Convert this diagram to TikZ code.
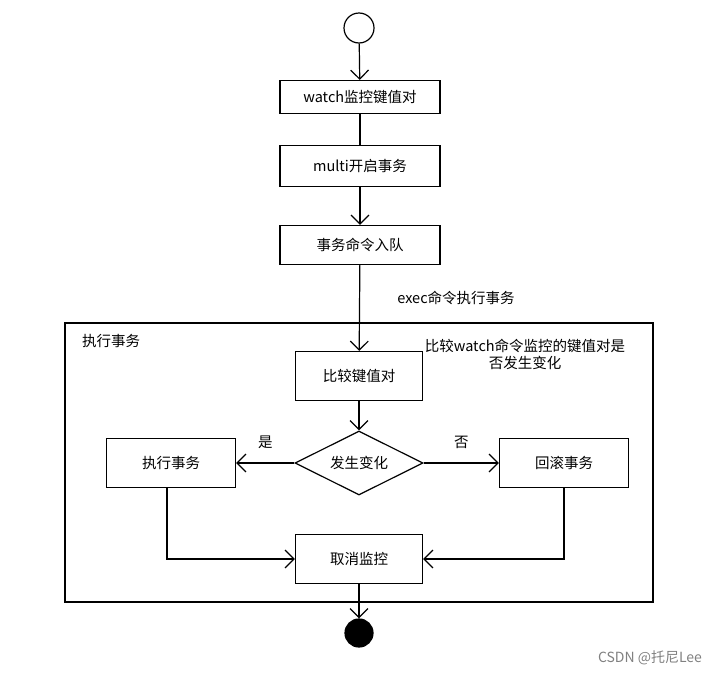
\documentclass[tikz,border=0pt]{standalone}
\usepackage{fontspec}
\setmainfont{Noto Sans CJK SC}
\usetikzlibrary{positioning, shapes.geometric, arrows.meta}

\begin{document}
\begin{tikzpicture}[x=1pt, y=-1pt, line width=1.2pt, >={Straight Barb[length=9pt,width=18pt]}, every node/.style={font=\fontsize{14.5}{17}\selectfont}]
	\tikzstyle{stepbox}=[draw=black, minimum height=33pt, minimum width=160pt, text=black]
	\tikzstyle{taskbox}=[draw=black, minimum height=49pt, minimum width=127pt, text=black]
	
	\useasboundingbox (0,0) rectangle (720,675);
	
	%% top part
	\node [draw, circle, minimum size=30pt] (start) at (359,28) {};
	\node [stepbox] (watch) at (360,97) {watch监控键值对};
	\node [stepbox, minimum height=41pt] (multi) at (360,166) {multi开启事务};
	\node [stepbox, minimum height=39pt] (queue) at (360,245) {事务命令入队};
	\node (exec) at (456,298) {exec命令执行事务};
	
	%% frame
	\node [draw, minimum width=588pt, minimum height=279pt] (frame) at (359,462.5) {};
	\node (framelabel) at (111,341) {执行事务};
	\node [align=center] (note) at (525,354) {比较watch命令监控的键值对是\\否发生变化};
	
	\node [taskbox] (compare) at (359,376) {比较键值对};
	\node [draw, diamond, aspect=2, minimum width=128pt, minimum height=64pt, inner sep=0pt] (change) at (359,463) {发生变化};
	\node [taskbox, minimum width=129pt] (yes) at (171,463) {执行事务};
	\node [taskbox, minimum width=129pt] (no) at (564,463) {回滚事务};
	\node [taskbox] (cancel) at (359,559) {取消监控};
	
	\node [draw, circle, fill=black, minimum size=28pt] (end) at (359,633) {};
	
	%% connectors
	\draw [->] (start) -- (watch);
	\draw (watch) -- (multi);
	\draw [->] (multi) -- (queue);
	\draw [->] (queue) -- (compare);
	\draw [->] (compare) -- (change);
	\draw [->] (change) -- node [above=10pt] {是} (yes);
	\draw [->] (change) -- node [above=10pt] {否} (no);
	\draw [->] ([xshift=-4pt]yes.south) |- (cancel.west);
	\draw [->] (no.south) |- (cancel.east);
	\draw [->] (cancel) -- (end);
	
	\node [text=gray, font=\fontsize{14}{16}\selectfont] (mark) at (650,658) {CSDN @托尼Lee};
\end{tikzpicture}
\end{document}
